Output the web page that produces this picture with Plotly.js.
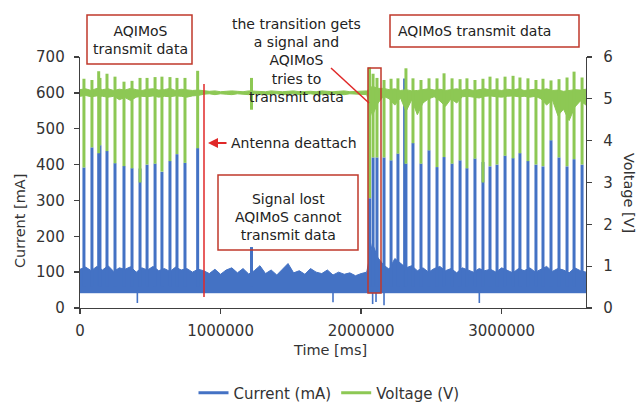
<!DOCTYPE html>
<html><head><meta charset="utf-8">
<script src="https://cdn.plot.ly/plotly-3.0.1.min.js"></script>
<style>html,body{margin:0;padding:0;background:#fff}#chart{width:638px;height:404px}</style>
</head><body><div id="chart"></div>
<script>
// ---------- data ----------
const baseT = [0,40000,80000,120000,160000,200000,240000,280000,320000,360000,400000,440000,480000,520000,560000,600000,640000,680000,720000,760000,800000,840000,880000,920000,960000,1000000,1040000,1080000,1120000,1160000,1200000,1240000,1280000,1320000,1360000,1400000,1440000,1480000,1520000,1560000,1600000,1640000,1680000,1720000,1760000,1800000,1840000,1880000,1920000,1960000,2000000,2040000,2080000,2120000,2160000,2200000,2240000,2280000,2320000,2360000,2400000,2440000,2480000,2520000,2560000,2600000,2640000,2680000,2720000,2760000,2800000,2840000,2880000,2920000,2960000,3000000,3040000,3080000,3120000,3160000,3200000,3240000,3280000,3320000,3360000,3400000,3440000,3480000,3520000,3560000,3600000];
// upper edge of the dense current baseline band (mA)
const curTop = [108,114,104,116,106,118,102,112,108,115,100,112,106,116,104,110,102,114,106,110,100,108,
  104,96,108,94,106,112,98,110,95,104,118,96,106,92,108,124,98,104,94,110,100,96,106,92,100,94,98,90,96,
  100,180,140,
  120,108,138,124,112,118,104,112,100,110,116,104,110,98,112,106,100,110,104,108,100,112,106,98,110,104,112,100,108,116,102,110,106,98,112,104,100];
const curFloorT = [0, 3600000];
const curFloor = [42, 42];
// voltage baseline band (V)
const vTop = [5.22,5.24,5.2,5.25,5.22,5.24,5.2,5.23,5.21,5.25,5.22,5.2,5.23,5.24,5.21,5.22,5.25,5.2,5.23,5.22,5.2,5.21,
  5.19,5.18,5.19,5.17,5.18,5.19,5.18,5.17,5.19,5.18,5.18,5.17,5.19,5.18,5.17,5.18,5.19,5.17,5.18,5.18,5.17,5.19,5.18,5.17,5.18,5.19,5.17,5.18,5.18,
  5.19,5.3,5.25,
  5.25,5.22,5.24,5.2,5.22,5.19,5.2,5.22,5.24,5.21,5.23,5.2,5.22,5.24,5.21,5.23,5.2,5.22,5.24,5.21,5.22,5.2,5.23,5.21,5.24,5.2,5.22,5.23,5.21,5.24,5.2,5.21,5.18,5.2,5.22,5.21,5.23];
const vBot = [5.06,5.08,5.05,5.07,5.06,5.04,5.06,4.98,5.03,4.96,5.04,5.06,5.05,5.07,5.04,5.06,5.05,5.07,5.06,5.04,5.07,5.08,
  5.11,5.12,5.1,5.12,5.11,5.1,5.12,5.11,5.1,5.12,5.11,5.1,5.11,5.12,5.1,5.11,5.12,5.1,5.11,5.12,5.1,5.11,5.1,5.12,5.11,5.1,5.12,5.11,5.1,
  5.1,4.6,4.9,
  5.06,5.0,4.85,5.02,4.7,4.98,4.62,4.9,5.0,5.05,4.95,4.82,5.0,4.9,5.05,5.06,5.04,5.02,5.06,5.07,5.05,5.04,5.06,5.07,5.05,5.06,5.04,5.06,5.0,4.85,4.98,4.6,4.75,4.48,4.8,4.95,4.85];
// transmission events
const spikeT = [28000,85000,133000,142000,192000,249000,313000,370000,427000,477000,534000,583000,640000,690000,747000,837000,
  1220000,
  2060000,2085000,2113000,
  2163000,2213000,2262000,2319000,2369000,2426000,2483000,2540000,2590000,2647000,2704000,2753000,2810000,2867000,2917000,2967000,3024000,3081000,3130000,3187000,3244000,3294000,3351000,3408000,3465000,3515000,3572000];
const curPeak = [392,448,432,454,438,404,396,390,389,400,403,380,410,429,405,446,
  170,
  306,420,420,
  420,412,431,403,460,403,440,393,421,403,412,390,417,407,395,400,425,418,432,410,400,395,468,420,395,415,400];
const vPeak = [5.48,5.45,5.66,5.5,5.6,5.53,5.41,5.43,5.5,5.5,5.52,5.53,5.52,5.5,5.5,5.67,
  5.5,
  5.75,5.6,5.5,
  5.45,5.48,5.49,5.73,5.49,5.45,5.49,5.49,5.61,5.49,5.47,5.49,5.45,5.48,5.53,5.49,5.53,5.55,5.51,5.49,5.45,5.48,5.44,5.47,5.51,5.65,5.51];
const vDip = [3.36,3.84,3.7,3.89,3.75,3.46,3.39,3.34,3.0,3.43,3.45,3.26,3.51,3.68,3.47,3.82,
  4.74,
  2.63,3.6,3.6,
  3.6,3.53,3.69,3.45,3.94,3.45,3.77,3.37,3.61,3.45,3.53,3.34,3.57,3.0,3.39,3.43,3.64,3.58,3.7,3.51,3.43,3.39,4.01,3.6,3.39,3.56,3.43];
const curSpikeBase = 60;
const extraT = [2306000];
const extraPeak = [640];
const dropT = [408000,1800000,2082000,2106000,2163000,2841000];
const dropMin = [14,16,11,17,8,14];
const xTicks = [0,1000000,2000000,3000000];
const xTickText = ['0','1000000','2000000','3000000'];

// ---------- drawing ----------
const BLUE = '#4472C4', GREEN = '#8DC854', RED = '#E02828', DARKRED = '#C0392B';
const F = 'DejaVu Sans', TXT = '#333333';

function segs(ts, lo, hi) {
  const x = [], y = [];
  ts.forEach((t, i) => {
    x.push(t, t, null);
    y.push(Array.isArray(lo) ? lo[i] : lo, Array.isArray(hi) ? hi[i] : hi, null);
  });
  return {x, y};
}
const cs = segs(spikeT, curSpikeBase, curPeak);
const ce = segs(extraT, curSpikeBase, extraPeak);
const cd = segs(dropT, 50, dropMin);
const vs = segs(spikeT, vDip, vPeak);

const traces = [
  {x: curFloorT, y: curFloor, mode: 'lines', line: {color: BLUE, width: 0.5}, showlegend: false, hoverinfo: 'skip'},
  {x: baseT, y: curTop, mode: 'lines', fill: 'tonexty', fillcolor: BLUE, line: {color: BLUE, width: 1}, showlegend: false, hoverinfo: 'skip'},
  {x: cd.x, y: cd.y, mode: 'lines', line: {color: BLUE, width: 1.6}, showlegend: false, hoverinfo: 'skip'},
  {x: ce.x, y: ce.y, mode: 'lines', line: {color: BLUE, width: 2}, showlegend: false, hoverinfo: 'skip'},
  {x: cs.x, y: cs.y, mode: 'lines', name: 'Current (mA)', line: {color: BLUE, width: 3}, hoverinfo: 'skip'},
  {x: baseT, y: vBot, yaxis: 'y2', mode: 'lines', line: {color: GREEN, width: 1}, showlegend: false, hoverinfo: 'skip'},
  {x: baseT, y: vTop, yaxis: 'y2', mode: 'lines', fill: 'tonexty', fillcolor: GREEN, line: {color: GREEN, width: 1}, showlegend: false, hoverinfo: 'skip'},
  {x: vs.x, y: vs.y, yaxis: 'y2', mode: 'lines', name: 'Voltage (V)', line: {color: GREEN, width: 3}, hoverinfo: 'skip'}
];

const L = 80, R = 586, T = 57, B = 308;
const px = v => (v - L) / (R - L);
const py = v => (B - v) / (B - T);
const tf = {family: F, size: 14, color: '#222222'};

function box(x0, y0, x1, y1, color) {
  return {type: 'rect', xref: 'paper', yref: 'paper', x0: px(x0), x1: px(x1), y0: py(y1), y1: py(y0),
          line: {color: color || DARKRED, width: 1.5}, fillcolor: 'rgba(0,0,0,0)'};
}
function line(x0, y0, x1, y1) {
  return {type: 'line', xref: 'paper', yref: 'paper', x0: px(x0), x1: px(x1), y0: py(y0), y1: py(y1),
          line: {color: RED, width: 1.5}};
}
function note(text, x, y, extra) {
  return Object.assign({text, xref: 'paper', yref: 'paper', x: px(x), y: py(y), showarrow: false,
          xanchor: 'center', yanchor: 'middle', font: tf}, extra || {});
}

const axisCommon = {showgrid: false, zeroline: false, showline: true, linecolor: '#404040', linewidth: 1.3,
  ticks: 'outside', ticklen: 5, tickwidth: 1.3, tickcolor: '#404040', tickfont: {family: F, size: 15, color: TXT}};

const layout = {
  width: 638, height: 404,
  margin: {l: L, r: 638 - R, t: T, b: 404 - B, pad: 0, autoexpand: false},
  paper_bgcolor: '#ffffff', plot_bgcolor: '#ffffff',
  showlegend: true,
  legend: {orientation: 'h', traceorder: 'normal', x: px(329), xanchor: 'center', y: py(393), yanchor: 'middle',
           font: {family: F, size: 15, color: TXT}, bgcolor: 'rgba(0,0,0,0)'},
  xaxis: Object.assign({}, axisCommon, {range: [0, 3600000], tickvals: xTicks, ticktext: xTickText, ticklabelstandoff: 4}),
  yaxis: Object.assign({}, axisCommon, {range: [0, 700], dtick: 100, ticklabelstandoff: 6}),
  yaxis2: Object.assign({}, axisCommon, {range: [0, 6], dtick: 1, overlaying: 'y', side: 'right', ticklabelstandoff: 8}),
  shapes: [
    box(87, 15, 192, 64),
    box(390, 15, 579, 47),
    box(218, 175, 358, 250),
    box(368, 68, 381, 293),
    line(331, 68, 369, 103),
    line(204, 84, 204, 297)
  ],
  annotations: [
    note('AQIMoS<br>transmit data', 140, 40),
    note('AQIMoS transmit data', 474, 31),
    note('the transition gets<br>a signal and<br>AQIMoS<br>tries to<br>transmit data', 296, 60),
    note('Signal lost<br>AQIMoS cannot<br>transmit data', 288, 217),
    note('Antenna deattach', 229, 143, {xanchor: 'left'}),
    {text: '', xref: 'paper', yref: 'paper', x: px(208), y: py(143), ax: 20, ay: 0, axref: 'pixel', ayref: 'pixel',
     showarrow: true, arrowhead: 2, arrowsize: 1, arrowwidth: 2, arrowcolor: RED},
    note('Time [ms]', 330, 350, {font: {family: F, size: 14.5, color: TXT}}),
    note('Current [mA]', 20, 221, {textangle: -90, font: {family: F, size: 14.5, color: TXT}}),
    note('Voltage [V]', 629, 193, {textangle: 90, font: {family: F, size: 14.5, color: TXT}})
  ]
};

Plotly.newPlot('chart', traces, layout, {displayModeBar: false, staticPlot: true});
</script>
</body></html>
